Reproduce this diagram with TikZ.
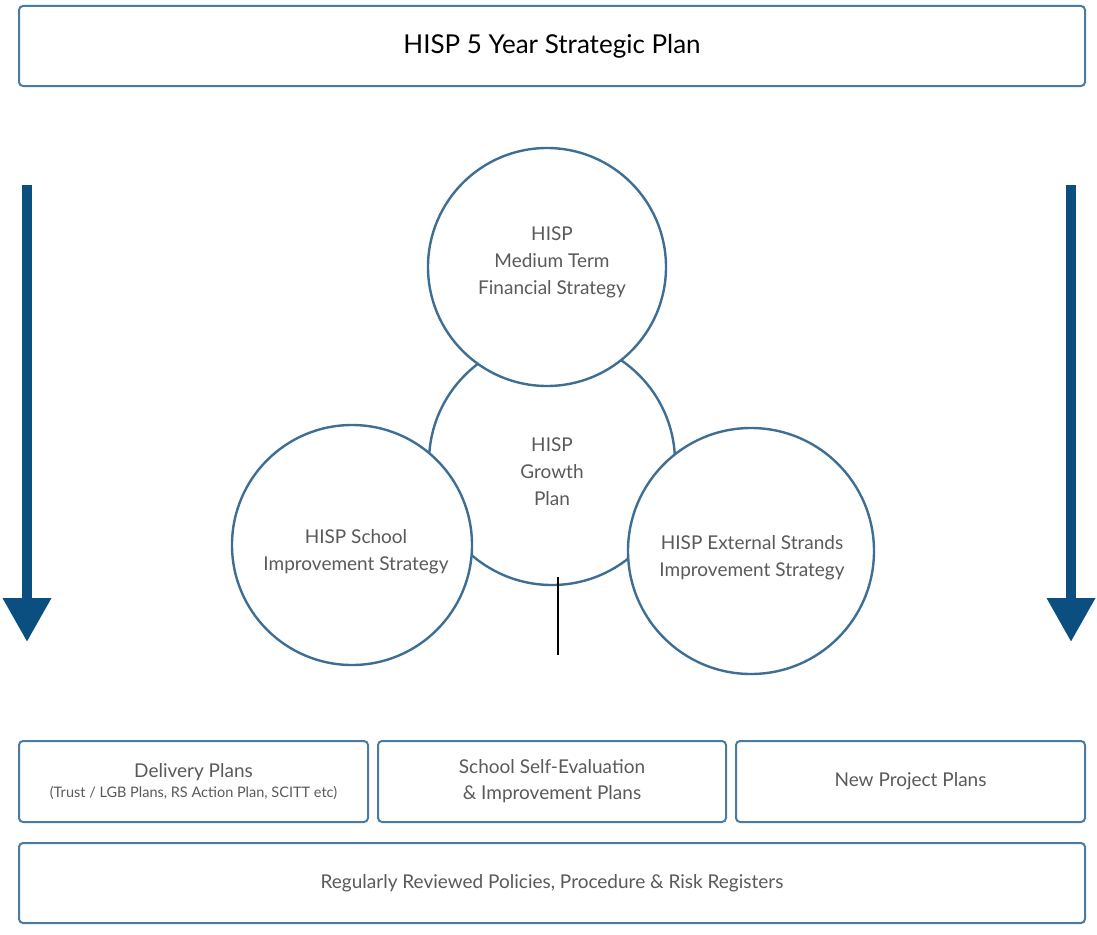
\documentclass[tikz,border=0pt]{standalone}
\usepackage{fontspec}
\setmainfont{Lato}
\usetikzlibrary{arrows.meta}
\definecolor{edgeblue}{HTML}{4A7BA3}
\definecolor{ringblue}{HTML}{3E6E94}
\definecolor{arrowblue}{HTML}{0B4F80}
\definecolor{textgrey}{HTML}{5A5A5A}
\tikzset{
  planbox/.style={draw=edgeblue, line width=2pt, rounded corners=4pt, fill=white,
    align=center, text=textgrey, font=\fontsize{19}{26}\selectfont, inner sep=0pt},
  ring/.style={draw=ringblue, line width=2.4pt, fill=white, circle, inner sep=0pt},
  ringtext/.style={text=textgrey, font=\fontsize{19}{27}\selectfont, align=center},
  flow/.style={draw=arrowblue, line width=10pt,
    -{Triangle[length=44pt, width=46pt]}},
}
\begin{document}
\begin{tikzpicture}[x=1pt, y=-1pt]
\useasboundingbox (0,0) rectangle (1097,934);

% headline plan
\node[planbox, minimum width=1066pt, minimum height=80pt, text=black,
  font=\fontsize{26}{30}\selectfont] (top) at (552,46) {HISP 5 Year Strategic Plan};

% downward flow arrows
\coordinate (lt) at (27,185);
\coordinate (lb) at (27,642);
\coordinate (rt) at (1071,185);
\coordinate (rb) at (1071,642);
\draw[flow] (lt) -- (lb);
\draw[flow] (rt) -- (rb);

% strategy circles
\node[ring, minimum size=246pt] (growth) at (552,462) {};
\node[ring, minimum size=238pt] (finance) at (547,267) {};
\node[ring, minimum size=240pt] (school) at (352,545) {};
\node[ring, minimum size=246pt] (external) at (751,551) {};

\node[ringtext] (financeT) at (552,262) {HISP\\Medium Term\\Financial Strategy};
\node[ringtext] (growthT) at (552,472) {HISP\\Growth\\Plan};
\node[ringtext] (schoolT) at (356,552) {HISP School\\Improvement Strategy};
\node[ringtext] (externalT) at (752,558) {HISP External Strands\\Improvement Strategy};

% stem below the growth plan
\coordinate (stemtop) at (558,577);
\coordinate (stembot) at (558,655);
\draw[line width=1.6pt, black] (stemtop) -- (stembot);

% delivery layer
\node[planbox, minimum width=349pt, minimum height=81pt] (delivery) at (193.5,781.5)
  {Delivery Plans\\[-6pt]{\fontsize{14.5}{17}\selectfont (Trust / LGB Plans, RS Action Plan, SCITT etc)}};
\node[planbox, minimum width=348pt, minimum height=81pt] (sse) at (552,781.5)
  {School Self-Evaluation\\\& Improvement Plans};
\node[planbox, minimum width=349pt, minimum height=81pt] (newproj) at (910.5,781.5)
  {New Project Plans};
\node[planbox, minimum width=1066pt, minimum height=80pt] (policies) at (552,883)
  {Regularly Reviewed Policies, Procedure \& Risk Registers};
\end{tikzpicture}
\end{document}
